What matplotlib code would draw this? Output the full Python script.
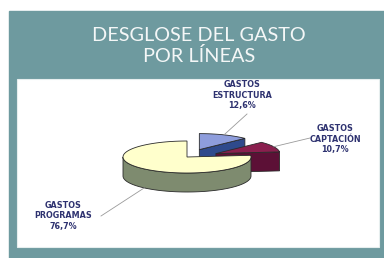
import numpy as np
import matplotlib
matplotlib.use("Agg")
import matplotlib.pyplot as plt
from matplotlib.patches import Rectangle, Polygon

# ---------------- DATA ---------------- #

title = "DESGLOSE DEL GASTO\nPOR LÍNEAS"
categories = ["GASTOS\nESTRUCTURA", "GASTOS\nCAPTACIÓN", "GASTOS\nPROGRAMAS"]
values = [12.6, 10.7, 76.7]
pct_labels = ["12,6%", "10,7%", "76,7%"]

top_colors = ["#8e9ddc", "#8a1f4e", "#ffffcc"]
side_colors = ["#2f4a8c", "#5c1036", "#7e8b6f"]
explode = [0.5, 0.5, 0.0]

# ---------------- LAYOUT ---------------- #

fig = plt.figure(figsize=(3.84, 2.58), dpi=100)
ax = fig.add_axes([0, 0, 1, 1])
ax.set_xlim(0, 384)
ax.set_ylim(258, 0)
ax.axis("off")

ax.add_patch(Rectangle((9, 11), 375, 247, color="#6e9a9f", zorder=0))
ax.add_patch(Rectangle((17, 79), 362, 168, facecolor="white",
                       edgecolor="#e6eeee", lw=0.8, zorder=1))

ax.text(199, 46, title, ha="center", va="center", color="#f4f7f7",
        fontsize=14.3, family="Lato", linespacing=1.15, zorder=2)

# ---------------- 3D PIE ---------------- #

cx, cy, rx, ry, depth = 187, 157, 64, 16, 19


def rim(t, ox, oy, dz=0):
    t = np.radians(t)
    return np.column_stack([ox + rx * np.cos(t), oy - ry * np.sin(t) + dz])


start = 90.0
slices = []
for v in values:
    t1 = start
    t2 = start - v * 3.6
    slices.append((t1, t2))
    start = t2

label_pos = [(242, 95), (335, 139), (63, 216)]
line_ends = [(247, 114), (310, 138), (101, 216)]

for i, (t1, t2) in enumerate(slices):
    m = (t1 + t2) / 2
    ox = cx + explode[i] * rx * np.cos(np.radians(m))
    oy = cy - explode[i] * ry * np.sin(np.radians(m))
    z = 3 + i

    ts = np.linspace(t2, t1, 200)
    # outer side, only the part facing the viewer
    front = np.sin(np.radians(ts)) < 0
    if front.any():
        idx = np.where(front)[0]
        runs = np.split(idx, np.where(np.diff(idx) != 1)[0] + 1)
        for r in runs:
            tt = ts[r]
            pts = np.vstack([rim(tt, ox, oy), rim(tt[::-1], ox, oy, depth)])
            ax.add_patch(Polygon(pts, closed=True, facecolor=side_colors[i],
                                 edgecolor="#2a2a2a", lw=0.6, zorder=z))
    # cut faces
    for t, sign in [(t2, 1), (t1, -1)]:
        if sign * np.cos(np.radians(t)) > 1e-6:
            p = rim([t], ox, oy)[0]
            pts = [(ox, oy), p, (p[0], p[1] + depth), (ox, oy + depth)]
            ax.add_patch(Polygon(pts, closed=True, facecolor=side_colors[i],
                                 edgecolor="#2a2a2a", lw=0.6, zorder=z))
    # top
    pts = np.vstack([[ox, oy], rim(ts, ox, oy)])
    ax.add_patch(Polygon(pts, closed=True, facecolor=top_colors[i],
                         edgecolor="#2a2a2a", lw=0.6, zorder=z))

    # leader line and label
    p = rim([m], ox, oy)[0]
    if np.sin(np.radians(m)) < 0:
        p = (p[0], p[1] + depth)
    ax.plot([p[0], line_ends[i][0]], [p[1], line_ends[i][1]],
            color="#9a9a9a", lw=0.6, zorder=10)
    ax.text(label_pos[i][0], label_pos[i][1], categories[i] + "\n" + pct_labels[i],
            ha="center", va="center", fontsize=5.8, fontweight="bold",
            color="#2e3270", linespacing=1.25, zorder=11)

fig.savefig("out.png", dpi=100)
